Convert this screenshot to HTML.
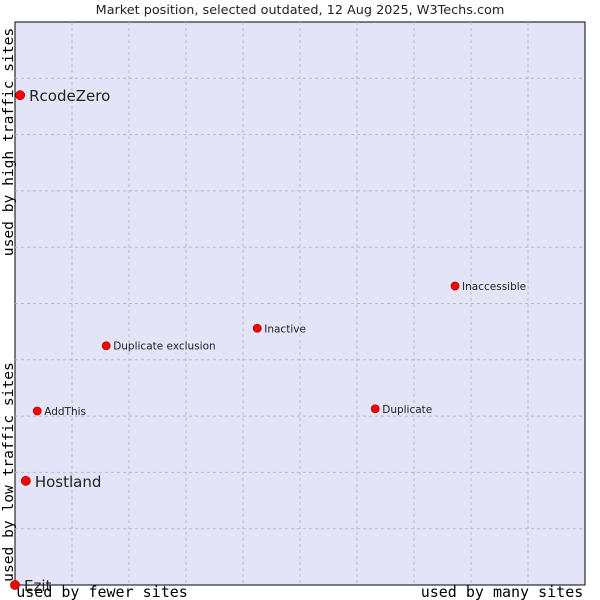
<!DOCTYPE html>
<html><head><meta charset="utf-8"><style>
body{margin:0;background:#fff;}
svg{display:block;font-family:"DejaVu Sans","Liberation Sans",sans-serif;}
</style></head><body>
<svg id="chart" width="600" height="600">
<rect x="15" y="22" width="570" height="563" fill="#e4e4f8" stroke="#000"/>
<g id="grid"></g>
<g id="pts"></g>
<text x="300" y="14" font-size="12.8" text-anchor="middle" fill="#222">Market position, selected outdated, 12 Aug 2025, W3Techs.com</text>
<text x="102" y="597" font-size="15" font-family="DejaVu Sans Mono,Liberation Mono,monospace" text-anchor="middle">used by fewer sites</text>
<text x="502" y="597" font-size="15" font-family="DejaVu Sans Mono,Liberation Mono,monospace" text-anchor="middle">used by many sites</text>
<text transform="translate(13,142) rotate(-90)" font-size="14.6" font-family="DejaVu Sans Mono,Liberation Mono,monospace" text-anchor="middle">used by high traffic sites</text>
<text transform="translate(13,472) rotate(-90)" font-size="14.6" font-family="DejaVu Sans Mono,Liberation Mono,monospace" text-anchor="middle">used by low traffic sites</text>
</svg>
<script>
const names=["RcodeZero","Hostland","Ezit","AddThis","Duplicate exclusion","Inactive","Duplicate","Inaccessible"];
const xVals=[0.09,0.19,0,0.39,1.60,4.25,6.32,7.72];
const yVals=[8.70,1.85,0,3.09,4.25,4.56,3.13,5.31];
const big=[true,true,true,false,false,false,false,false];
const NS="http://www.w3.org/2000/svg";
const X=v=>15+v*57, Y=v=>585-v*56.3;
const grid=document.getElementById('grid'), pts=document.getElementById('pts');
for(let i=1;i<10;i++){
 const l=document.createElementNS(NS,'line');
 
 
 l.setAttribute('x1',X(i));l.setAttribute('x2',X(i));l.setAttribute('y1',22);l.setAttribute('y2',585);
 l.setAttribute('stroke','#bbb');l.setAttribute('stroke-dasharray','3,3');grid.appendChild(l);
 const h=document.createElementNS(NS,'line');
 
 
 h.setAttribute('x1',15);h.setAttribute('x2',585);h.setAttribute('y1',Y(i));h.setAttribute('y2',Y(i));
 h.setAttribute('stroke','#bbb');h.setAttribute('stroke-dasharray','3,3');grid.appendChild(h);
}
names.forEach((n,i)=>{
 const cx=X(xVals[i]),cy=Y(yVals[i]);
 const c=document.createElementNS(NS,'circle');
 
 
 c.setAttribute('cx',cx);c.setAttribute('cy',cy);c.setAttribute('r',big[i]?4.5:4);
 c.setAttribute('fill','#f00');c.setAttribute('stroke','#a00');c.setAttribute('stroke-width','0.8');pts.appendChild(c);
 const t=document.createElementNS(NS,'text');
 
 
 t.setAttribute('x',cx+(big[i]?9:7));t.setAttribute('y',cy+(big[i]?6:4));
 t.setAttribute('font-size',big[i]?15:10.5);t.setAttribute('fill','#222');t.textContent=n;pts.appendChild(t);
});
</script>
</body></html>
